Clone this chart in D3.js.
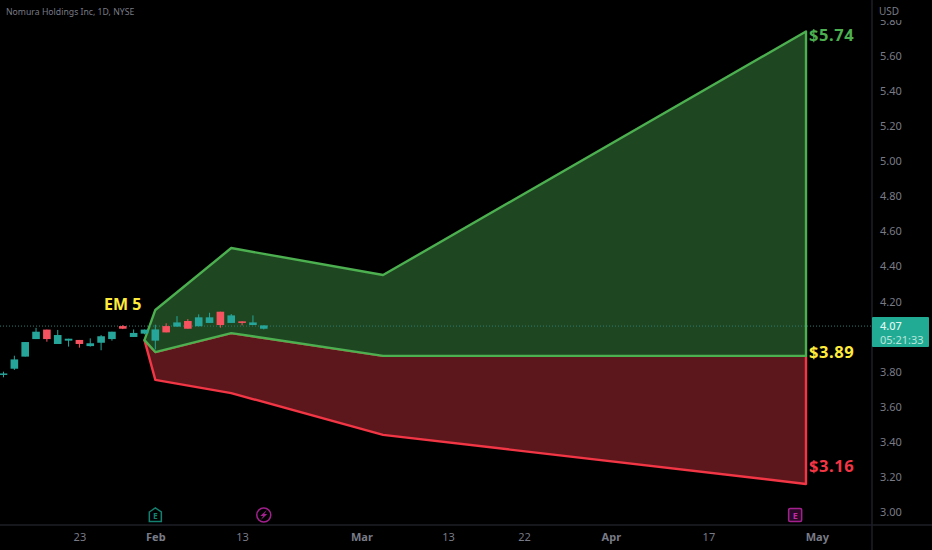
<!DOCTYPE html>
<html>
<head>
<meta charset="utf-8">
<script src="https://cdn.jsdelivr.net/npm/d3@7/dist/d3.min.js"></script>
<style>
html, body { margin: 0; padding: 0; background: #000; overflow: hidden; }
svg { display: block; font-family: "Noto Sans", sans-serif; }
</style>
</head>
<body>
<svg id="chart" width="932" height="550"></svg>
<script>
// candles, bar 0 is 12 Jan
var opens  = [3.785, 3.817, 3.886, 3.986, 4.04, 3.958, 3.977, 3.981, 3.946, 3.965, 3.986, 4.06, 3.998, 4.017, 3.977, 4.06, 4.057, 4.089, 4.059, 4.078, 4.142, 4.078, 4.087, 4.066, 4.045];
var highs  = [3.80, 3.891, 3.969, 4.05, 4.04, 4.038, 3.988, 3.981, 3.99, 4.009, 4.028, 4.066, 4.041, 4.04, 4.068, 4.076, 4.117, 4.10, 4.127, 4.136, 4.142, 4.129, 4.087, 4.121, 4.064];
var lows   = [3.768, 3.81, 3.886, 3.986, 3.971, 3.958, 3.943, 3.937, 3.943, 3.922, 3.977, 4.043, 3.998, 4.013, 3.927, 4.024, 4.057, 4.045, 4.059, 4.078, 4.051, 4.078, 4.064, 4.066, 4.041];
var closes = [3.79, 3.87, 3.969, 4.028, 3.986, 4.009, 3.988, 3.958, 3.962, 4.002, 4.028, 4.045, 4.021, 4.04, 4.041, 4.024, 4.081, 4.045, 4.11, 4.11, 4.066, 4.121, 4.078, 4.081, 4.064];

// expected move envelope, same bars for all three
var emBars  = [13, 14, 21, 35, 74];
var emUpper = [3.98, 4.152, 4.505, 4.351, 5.74];
var emMid   = [3.98, 3.912, 4.02, 3.89, 3.89];
var emLower = [3.98, 3.753, 3.678, 3.44, 3.16];

var priceTicks = [3.0, 3.2, 3.4, 3.6, 3.8, 4.2, 4.4, 4.6, 4.8, 5.0, 5.2, 5.4, 5.6, 5.8];
var timeBars   = [7, 14, 22, 33, 41, 48, 56, 65, 75];
var timeLabels = ["23", "Feb", "13", "Mar", "13", "22", "Apr", "17", "May"];
var boldLabels = ["Feb", "Mar", "Apr", "May"];
var eventBars  = [14, 24, 73];
var eventKinds = ["earnings", "split", "next"];

var lastPrice = 4.063;

var svg = d3.select("#chart");
var x = d3.scaleLinear().domain([0, 74]).range([3.5, 806]);
var y = d3.scaleLinear().domain([3, 5.6]).range([512, 56]);

var green = "#4caf50", red = "#f23645", yellow = "#ffeb3b";
var teal = "#26a69a", candleRed = "#f7525f";

// envelope
function pts(vals) {
    return vals.map(function(v, i) { return [x(emBars[i]), y(v)]; });
}
var upper = pts(emUpper), mid = pts(emMid), lower = pts(emLower);
var line = d3.line();

svg.append("path")
   .attr("d", line(lower.concat(mid.slice().reverse())) + "Z")
   .attr("fill", "#5c171c")
   .attr("stroke", red)
   .attr("stroke-width", 2.4)
   .attr("stroke-linejoin", "round");
svg.append("path")
   .attr("d", line(upper.concat(mid.slice().reverse())) + "Z")
   .attr("fill", "#1e4620")
   .attr("stroke", green)
   .attr("stroke-width", 2.4)
   .attr("stroke-linejoin", "round");

// current price line
svg.append("line")
   .attr("x1", 0).attr("x2", 872)
   .attr("y1", y(lastPrice) + 0.5).attr("y2", y(lastPrice) + 0.5)
   .attr("stroke", "#2f7d73")
   .attr("stroke-width", 1)
   .attr("stroke-dasharray", "1 2");

// candles
var candles = svg.append("g").selectAll("g")
    .data(opens)
    .enter().append("g")
    .attr("fill", function(d, i) { return closes[i] >= d ? teal : candleRed; })
    .attr("stroke", function(d, i) { return closes[i] >= d ? teal : candleRed; });
candles.append("line")
    .attr("x1", function(d, i) { return x(i); })
    .attr("x2", function(d, i) { return x(i); })
    .attr("y1", function(d, i) { return y(highs[i]); })
    .attr("y2", function(d, i) { return y(lows[i]); })
    .attr("stroke-width", 1);
candles.append("rect")
    .attr("x", function(d, i) { return x(i) - 3.8; })
    .attr("width", 7.6)
    .attr("y", function(d, i) { return y(Math.max(d, closes[i])); })
    .attr("height", function(d, i) { return Math.max(1.5, Math.abs(y(d) - y(closes[i]))); })
    .attr("stroke", "none");

// price scale
var yAxis = svg.append("g")
    .attr("transform", "translate(872,0)")
    .call(d3.axisRight(y).tickValues(priceTicks).tickSize(0).tickPadding(8).tickFormat(d3.format(".2f")));
yAxis.select(".domain").remove();
yAxis.selectAll("text").attr("fill", "#787b86").attr("font-size", 11).attr("font-family", "'Noto Sans'");

// time scale
var xAxis = svg.append("g")
    .attr("transform", "translate(0,525)")
    .call(d3.axisBottom(x).tickValues(timeBars).tickSize(0).tickPadding(8)
        .tickFormat(function(d, i) { return timeLabels[i]; }));
xAxis.select(".domain").remove();
xAxis.selectAll("text")
    .attr("fill", "#787b86")
    .attr("font-size", 11)
    .attr("font-family", "'Noto Sans'")
    .attr("font-weight", function(d, i) { return boldLabels.indexOf(timeLabels[i]) >= 0 ? "bold" : "normal"; });

// covers the top of the cut off 5.80 label
svg.append("rect").attr("x", 873).attr("y", 0).attr("width", 59).attr("height", 20).attr("fill", "#000");
svg.append("text").attr("x", 879).attr("y", 15).attr("font-size", 10).attr("fill", "#787b86").text("USD");

svg.append("line").attr("x1", 872).attr("x2", 872).attr("y1", 0).attr("y2", 550).attr("stroke", "#1e1f26").attr("stroke-width", 1.5);
svg.append("line").attr("x1", 0).attr("x2", 932).attr("y1", 525).attr("y2", 525).attr("stroke", "#1e1f26").attr("stroke-width", 1.5);

// last price tag
svg.append("rect").attr("x", 872).attr("y", 317).attr("width", 57).attr("height", 30).attr("rx", 1).attr("fill", "#22ab94");
svg.append("text").attr("x", 880).attr("y", 330).attr("font-size", 11).attr("font-weight", 500).attr("fill", "#dff5f0").text("4.07");
svg.append("text").attr("x", 880).attr("y", 343.5).attr("font-size", 11).attr("fill", "#b9e6dd").text("05:21:33");

// header and annotations
svg.append("text").attr("x", 6).attr("y", 15).attr("font-size", 8.7).attr("fill", "#787b86").text("Nomura Holdings Inc, 1D, NYSE");
svg.append("text").attr("x", 104).attr("y", 310).attr("font-size", 16).attr("font-weight", "bold").attr("fill", yellow).text("EM 5");

var endLabels = [
    { text: "$5.74", value: emUpper[4], color: green },
    { text: "$3.89", value: emMid[4], color: yellow },
    { text: "$3.16", value: emLower[4], color: red }
];
var labelLift = [1, -7, -21];
svg.selectAll(".endLabel")
    .data(endLabels)
    .enter().append("text")
    .attr("class", "endLabel")
    .attr("x", 809)
    .attr("y", function(d, i) { return y(d.value) + labelLift[i] + 9; })
    .attr("font-size", 16.5)
    .attr("font-weight", "bold")
    .attr("letter-spacing", 0.6)
    .attr("fill", function(d) { return d.color; })
    .text(function(d) { return d.text; });

// event markers above the time scale
var events = svg.selectAll(".event")
    .data(eventKinds)
    .enter().append("g")
    .attr("class", "event")
    .attr("transform", function(d, i) { return "translate(" + x(eventBars[i]) + ",515)"; });
events.each(function(kind) {
    var g = d3.select(this);
    if (kind == "earnings") {
        g.append("path").attr("d", "M-6,-3 L0,-7 L6,-3 L6,6.5 L-6,6.5 Z")
         .attr("fill", "none").attr("stroke", "#14806f").attr("stroke-width", 1.5);
        g.append("text").attr("text-anchor", "middle").attr("y", 4).attr("font-size", 8.5)
         .attr("font-weight", "bold").attr("fill", "#14806f").text("E");
    } else if (kind == "split") {
        g.append("circle").attr("r", 7).attr("fill", "none").attr("stroke", "#a3208f").attr("stroke-width", 1.5);
        g.append("path").attr("d", "M3,-5 L-3.5,1 L-0.5,1 L-3,5 L3.5,-1 L0.5,-1 Z").attr("fill", "#a3208f");
    } else {
        g.append("rect").attr("x", -6.5).attr("y", -6.5).attr("width", 13).attr("height", 13).attr("rx", 1.5)
         .attr("fill", "#2a0a26").attr("stroke", "#a3208f").attr("stroke-width", 1.5);
        g.append("text").attr("text-anchor", "middle").attr("y", 3.5).attr("font-size", 9)
         .attr("font-weight", "bold").attr("fill", "#c02aa8").text("E");
    }
});
</script>
</body>
</html>
